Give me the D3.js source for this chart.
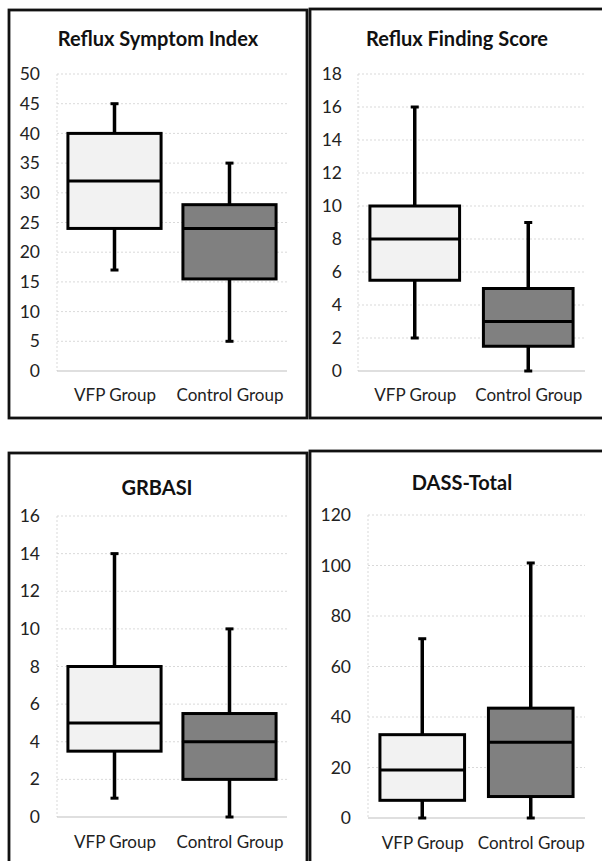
<!DOCTYPE html>
<html><head><meta charset="utf-8">
<script src="https://cdn.jsdelivr.net/npm/d3@7"></script>
<style>
html,body{margin:0;padding:0;background:#fff;}
svg{display:block;font-family:Lato,"Open Sans",sans-serif;}
</style></head>
<body>
<script>
// ---- data ----
const categories = ["VFP Group", "Control Group"];
const titles = ["Reflux Symptom Index", "Reflux Finding Score", "GRBASI", "DASS-Total"];
const yMax = [50, 18, 16, 120];
const yStep = [5, 2, 2, 20];
// [min, q1, median, q3, max] per group
const rsiVFP = [17, 24, 32, 40, 45];
const rsiControl = [5, 15.5, 24, 28, 35];
const rfsVFP = [2, 5.5, 8, 10, 16];
const rfsControl = [0, 1.5, 3, 5, 9];
const grbasiVFP = [1, 3.5, 5, 8, 14];
const grbasiControl = [0, 2, 4, 5.5, 10];
const dassVFP = [0, 7, 19, 33, 71];
const dassControl = [0, 8.5, 30, 43.5, 101];
const seriesData = [[rsiVFP, rsiControl],[rfsVFP, rfsControl],[grbasiVFP, grbasiControl],[dassVFP, dassControl]];

// ---- layout ----
const W = 602, H = 861;
const layouts = [
  {frame:[9,10,298,408], plot:[57,287,74,371], titleY:46, catY:403, tickX:17, boxFrac:0.81, titleX:158},
  {frame:[310,9,300,409], plot:[358,585,74,371], titleY:46, catY:403, tickX:16, boxFrac:0.79, titleX:457},
  {frame:[9,453,298,420], plot:[57,287,516,817], titleY:495, catY:850, tickX:17, boxFrac:0.81, titleX:157},
  {frame:[310,451,300,420], plot:[368,585,515,818], titleY:490, catY:851, tickX:17, boxFrac:0.78, titleX:462}
];
const fills = ["#f2f2f2", "#808080"];

const svg = d3.select("body").append("svg").attr("width", W).attr("height", H);

layouts.forEach((L, i) => {
  const g = svg.append("g");
  const [px0, px1, py0, py1] = L.plot;
  const y = d3.scaleLinear().domain([0, yMax[i]]).range([py1, py0]);
  const x = d3.scalePoint().domain(categories).range([px0, px1]).padding(0.5);
  const step = x.step();
  const bw = step * L.boxFrac;
  const ticks = d3.range(0, yMax[i] + 0.001, yStep[i]);

  // frame
  g.append("rect").attr("x", L.frame[0]).attr("y", L.frame[1])
    .attr("width", L.frame[2]).attr("height", L.frame[3])
    .attr("fill", "none").attr("stroke", "#111").attr("stroke-width", 2.8);

  // title
  g.append("text").attr("x", L.titleX).attr("y", L.titleY)
    .attr("text-anchor", "middle").attr("font-weight", "bold")
    .attr("font-size", 20).attr("fill", "#111").text(titles[i]);

  // gridlines
  g.selectAll(".grid").data(ticks.filter(t => t > 0)).join("line")
    .attr("x1", px0).attr("x2", px1)
    .attr("y1", d => y(d)).attr("y2", d => y(d))
    .attr("stroke", "#cfcfcf").attr("stroke-width", 0.8).attr("stroke-dasharray", "2,2");
  // left dotted vertical
  g.append("line").attr("x1", px0).attr("x2", px0).attr("y1", py0).attr("y2", py1)
    .attr("stroke", "#cfcfcf").attr("stroke-width", 0.8).attr("stroke-dasharray", "2,2");
  // baseline
  g.append("line").attr("x1", px0).attr("x2", px1).attr("y1", y(0)).attr("y2", y(0))
    .attr("stroke", "#bfbfbf").attr("stroke-width", 1.2);

  // y axis labels
  const yAxis = d3.axisLeft(y).tickValues(ticks).tickSize(0).tickPadding(L.tickX);
  const ya = g.append("g").attr("transform", `translate(${px0},0)`).call(yAxis);
  ya.select(".domain").remove();
  ya.selectAll("text").attr("font-size", 17.5).attr("fill", "#222")
    .attr("font-family", "Lato, 'Open Sans', sans-serif");

  // x axis labels
  const xAxis = d3.axisBottom(x).tickSize(0).tickPadding(0);
  const xa = g.append("g").attr("transform", `translate(0,${L.catY - 14})`).call(xAxis);
  xa.select(".domain").remove();
  xa.selectAll("text").attr("font-size", 17).attr("fill", "#222")
    .attr("font-family", "Lato, 'Open Sans', sans-serif");

  // boxes
  const data = categories.map((c, k) => ({c, v: seriesData[i][k], fill: fills[k]}));
  const bg = g.selectAll(".box").data(data).join("g");
  // whiskers
  bg.append("line").attr("x1", d => x(d.c)).attr("x2", d => x(d.c))
    .attr("y1", d => y(d.v[0])).attr("y2", d => y(d.v[1]))
    .attr("stroke", "#000").attr("stroke-width", 3.5);
  bg.append("line").attr("x1", d => x(d.c)).attr("x2", d => x(d.c))
    .attr("y1", d => y(d.v[3])).attr("y2", d => y(d.v[4]))
    .attr("stroke", "#000").attr("stroke-width", 3.5);
  // caps
  [0, 4].forEach(j => {
    bg.append("line").attr("x1", d => x(d.c) - 4).attr("x2", d => x(d.c) + 4)
      .attr("y1", d => y(d.v[j])).attr("y2", d => y(d.v[j]))
      .attr("stroke", "#000").attr("stroke-width", 3);
  });
  // box
  bg.append("rect").attr("x", d => x(d.c) - bw / 2).attr("width", bw)
    .attr("y", d => y(d.v[3])).attr("height", d => y(d.v[1]) - y(d.v[3]))
    .attr("fill", d => d.fill).attr("stroke", "#000").attr("stroke-width", 3);
  // median
  bg.append("line").attr("x1", d => x(d.c) - bw / 2).attr("x2", d => x(d.c) + bw / 2)
    .attr("y1", d => y(d.v[2])).attr("y2", d => y(d.v[2]))
    .attr("stroke", "#000").attr("stroke-width", 3);
});
</script>
</body></html>
